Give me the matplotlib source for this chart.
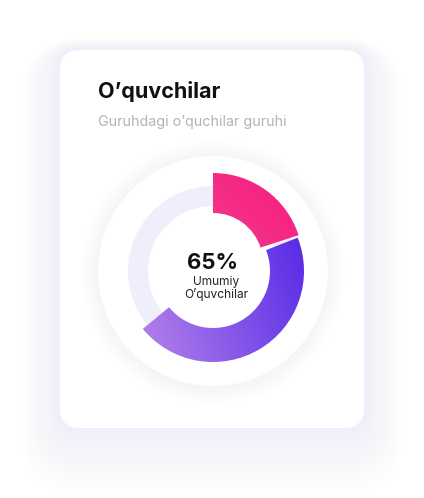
import numpy as np
import matplotlib
matplotlib.use("Agg")
import matplotlib.pyplot as plt
from matplotlib.patches import Wedge, Circle, FancyBboxPatch

# data
title = "O\u2019quvchilar"
subtitle = "Guruhdagi o\u2019quchilar guruhi"
center_value = "65%"
center_label = ["Umumiy", "O\u2019quvchilar"]
segment_values = [20, 45]          # percent, pink then purple
segment_colors = [("#ec5e9f", "#f81a7d"), ("#bd8ceb", "#4e22e6")]

W, H = 424, 498
plt.rcParams['font.family'] = ['Inter', 'DejaVu Sans']

fig = plt.figure(figsize=(W / 100, H / 100), dpi=100)
ax = fig.add_axes([0, 0, 1, 1])
ax.set_xlim(0, W)
ax.set_ylim(0, H)
ax.axis('off')


def py(y):
    # picture y (top down) -> data y
    return H - y


# card shadow, very faint and mostly below
for i in range(16):
    pad = 2 + i * 2.4
    sh = FancyBboxPatch((60 - pad, py(428) - pad - i * 1.8), 304 + 2 * pad, 378 + 2 * pad,
                        boxstyle="round,pad=0,rounding_size=%g" % (20 + pad),
                        fc="#e6ecfa", ec="none", alpha=0.008, zorder=1)
    ax.add_patch(sh)
card = FancyBboxPatch((60, py(428)), 304, 378, boxstyle="round,pad=0,rounding_size=20",
                      fc="white", ec="none", zorder=2)
ax.add_patch(card)

cx, cy = 213, py(271)

# white disc with soft shadow
for i in range(10):
    ax.add_patch(Circle((cx, cy - 1), 116 + i * 1.8, fc="#e8edf9", ec="none", alpha=0.01, zorder=3))
ax.add_patch(Circle((cx, cy), 115, fc="white", ec="none", zorder=4))

# background track
ax.add_patch(Wedge((cx, cy), 85, 0, 360, width=20, fc="#f1eefb", ec="none", zorder=5))


def gradient_wedge(center, r_out, r_in, a0, a1, c_light, c_dark, direction):
    w = Wedge(center, r_out, a0, a1, width=r_out - r_in, fc="none", ec="none")
    ax.add_patch(w)
    x0, x1 = center[0] - r_out, center[0] + r_out
    y0, y1 = center[1] - r_out, center[1] + r_out
    n = 200
    gx, gy = np.meshgrid(np.linspace(-1, 1, n), np.linspace(-1, 1, n))
    t = (gx * direction[0] + gy * direction[1])
    t = (t - t.min()) / (t.max() - t.min())
    cl = np.array(matplotlib.colors.to_rgb(c_light))
    cd = np.array(matplotlib.colors.to_rgb(c_dark))
    img = cl[None, None, :] * (1 - t[..., None]) + cd[None, None, :] * t[..., None]
    im = ax.imshow(img, extent=(x0, x1, y0, y1), origin='lower', zorder=6,
                   interpolation='bilinear')
    im.set_clip_path(w)


# segments, clockwise from top
start = 90
pink_end = start - segment_values[0] / 100 * 360
gap = 3.5
purple_start = pink_end + gap
purple_end = purple_start - segment_values[1] / 100 * 360

# pink piece is pulled out upward a little
gradient_wedge((cx, cy + 8), 90, 50, pink_end, start,
               segment_colors[0][0], segment_colors[0][1], (0.7, 0.7))
gradient_wedge((cx, cy), 91, 57, purple_end, purple_start,
               segment_colors[1][0], segment_colors[1][1], (1.0, 0.35))
ax.set_xlim(0, W)
ax.set_ylim(0, H)

# texts
ax.text(98, py(98), title, fontsize=15.5, fontweight='bold', color="#111111",
        ha='left', va='baseline', zorder=8)
ax.text(98, py(126), subtitle, fontsize=10.3, color="#b3b3b3",
        ha='left', va='baseline', zorder=8)
ax.text(cx, py(269), center_value, fontsize=16, fontweight='bold', color="#111111",
        ha='center', va='baseline', zorder=8)
ax.text(cx + 3, py(285), center_label[0], fontsize=8.6, color="#222222",
        ha='center', va='baseline', zorder=8)
ax.text(cx + 3, py(298), center_label[1], fontsize=8.6, color="#222222",
        ha='center', va='baseline', zorder=8)

fig.savefig("out.png", dpi=100, facecolor="white")
